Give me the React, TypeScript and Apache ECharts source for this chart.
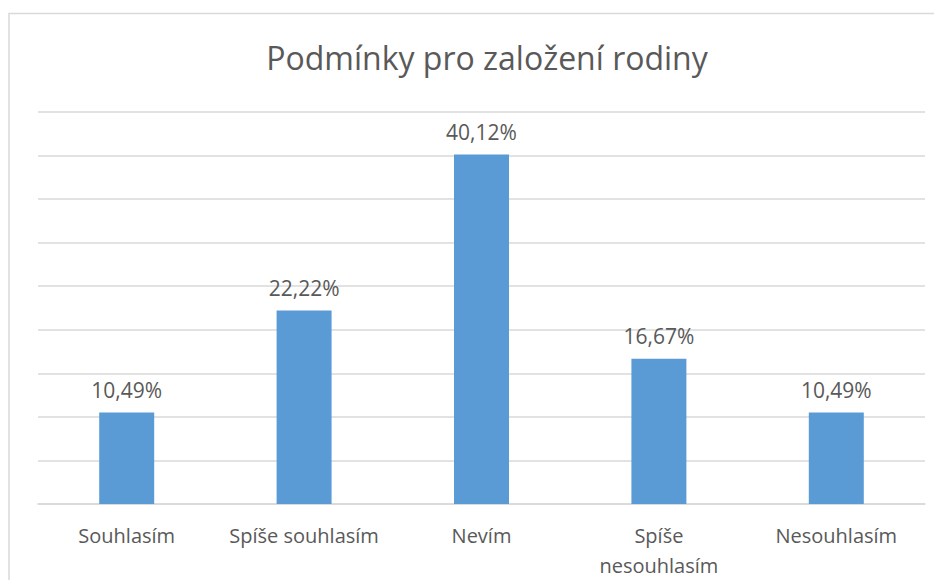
import React, { useEffect, useRef } from "react";
import * as echarts from "echarts";

const categories = ["Souhlasím", "Spíše souhlasím", "Nevím", "Spíše\nnesouhlasím", "Nesouhlasím"];
const values = [10.49, 22.22, 40.12, 16.67, 10.49];
const titleText = "Podmínky pro založení rodiny";

const FONT = "'Open Sans', 'Noto Sans', sans-serif";
const TEXT = "#595959";
const GRID = "#d9d9d9";

export default function App() {
  const ref = useRef<HTMLDivElement>(null);
  useEffect(() => {
    if (!ref.current) return;
    const chart = echarts.init(ref.current, undefined, { renderer: "svg" });
    chart.setOption({
      animation: false,
      backgroundColor: "#ffffff",
      title: {
        text: titleText,
        left: 474,
        top: 28,
        textAlign: "center",
        textStyle: { fontFamily: FONT, fontSize: 32, fontWeight: "normal", color: TEXT },
      },
      graphic: [
        {
          type: "rect",
          shape: { x: 1, y: 5.5, width: 2000, height: 2000 },
          style: { fill: "none", stroke: GRID, lineWidth: 1.5 },
          silent: true,
        },
      ],
      grid: { left: 30, right: 17, top: 104, bottom: 75 },
      xAxis: {
        type: "category",
        data: categories,
        axisLine: { lineStyle: { color: GRID, width: 1.5 } },
        axisTick: { show: false },
        axisLabel: {
          color: TEXT,
          fontFamily: FONT,
          fontSize: 20,
          lineHeight: 30,
          margin: 16,
          interval: 0,
        },
      },
      yAxis: {
        type: "value",
        min: 0,
        max: 45,
        interval: 5,
        axisLabel: { show: false },
        axisLine: { show: false },
        axisTick: { show: false },
        splitLine: { lineStyle: { color: GRID, width: 1.5 } },
      },
      series: [
        {
          type: "bar",
          data: values,
          barWidth: "31%",
          itemStyle: { color: "#5b9bd5" },
          label: {
            show: true,
            position: "top",
            distance: 12,
            color: TEXT,
            fontFamily: FONT,
            fontSize: 21,
            formatter: (p: any) => p.value.toFixed(2).replace(".", ",") + "%",
          },
        },
      ],
    });
    return () => chart.dispose();
  }, []);
  return <div ref={ref} style={{ width: 934, height: 572 }} />;
}
